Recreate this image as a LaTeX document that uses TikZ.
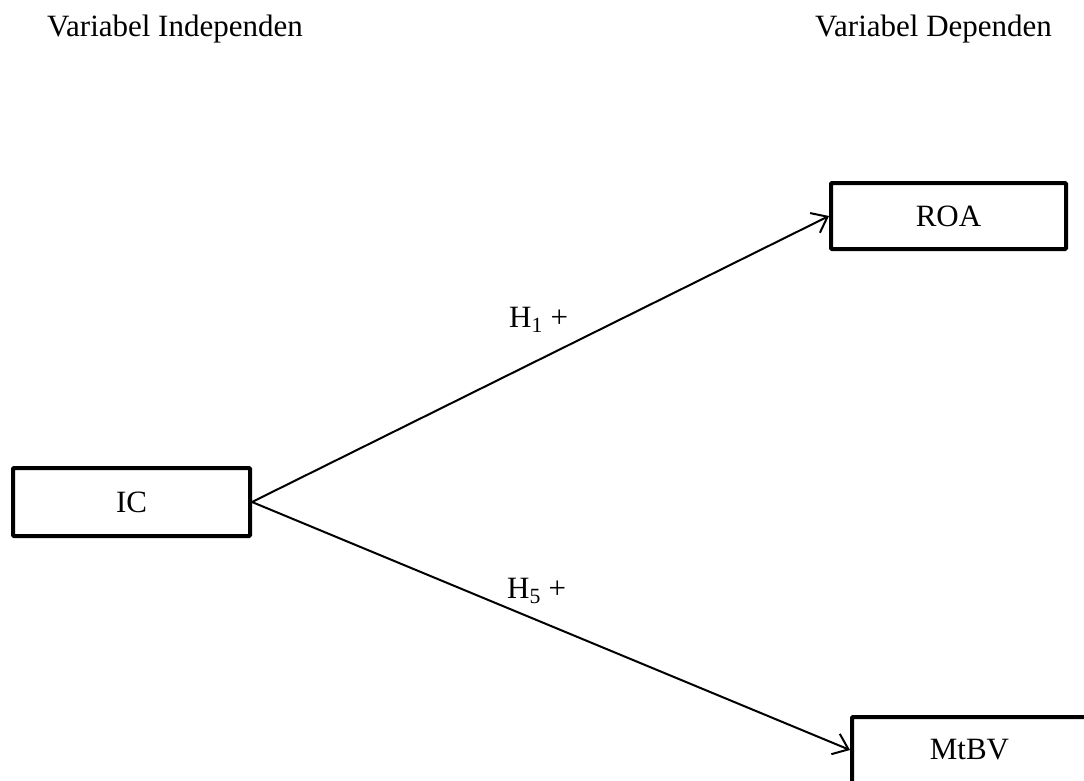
\documentclass[tikz,border=0pt]{standalone}
\usepackage{fontspec}
\setmainfont{Liberation Serif}
\usetikzlibrary{arrows.meta}
\begin{document}
\begin{tikzpicture}[x=1pt,y=-1pt,
  box/.style={draw=black,line width=4pt,rounded corners=1pt,minimum width=235pt,minimum height=66pt,inner sep=0pt,font=\fontsize{31}{37}\selectfont},
  lbl/.style={inner sep=0pt,anchor=base west,font=\fontsize{31}{37}\selectfont},
  conn/.style={line width=2pt,-{Straight Barb[length=14pt,width=22pt,line width=2pt]}}]
\clip (0,0) rectangle (1084,781);
\useasboundingbox (0,0) rectangle (1084,781);
\node[lbl] (hin) at (47,37) {Variabel Independen};
\node[lbl] (hdep) at (815,37) {Variabel Dependen};
\node[box,minimum width=237pt,minimum height=68pt] (ic) at (131.5,502) {IC};
\node[box] (roa) at (948.5,216) {ROA};
\node[box] (mtbv) at (969.5,750) {MtBV};
\draw[conn] (ic.east) -- (roa.west);
\draw[conn] (ic.east) -- (mtbv.west);
\node[lbl] (h1) at (509,327) {H\textsubscript{1} +};
\node[lbl] (h5) at (507,598) {H\textsubscript{5} +};
\end{tikzpicture}
\end{document}
